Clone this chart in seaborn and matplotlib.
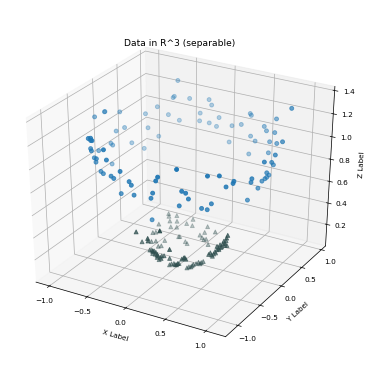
import matplotlib
matplotlib.use("Agg")
import matplotlib.pyplot as plt
import seaborn as sns
import numpy as np

# Point coordinates, in hundredths of a data unit
blue_x = [-64,-64,-65,-49,-28,-24,96,-77,-101,-107,-107,-107,-85,-66,-35,-55,-34,-23,-13,-14,5,17,26,28,69,51,56,72,-80,-95,-98,-70,33,41,66,82,102,5,-87,-95,-94,-78,69,36,-91,-87,-65,-58,-55,-60,-76,-67,-37,103,-73,-63,-67,-37,104,99,94,-61,-54,-19,48,-37,-33,27,24,72,81,96,90,88,92,92,96,94,88,87,82,90,-10,-8,-28,-8,17,13,47,50,51,41,68,59,85,63,6]
blue_y = [93,85,84,94,102,101,64,69,27,5,6,-15,56,75,94,81,91,94,99,95,97,97,101,100,82,88,84,73,53,27,14,60,90,86,73,59,33,91,29,-2,0,41,65,81,-33,-13,-91,-97,-99,-94,-71,-83,-105,15,-69,-80,-75,-100,-12,15,29,-75,-81,-102,-99,-92,-93,-102,-101,-77,-68,10,27,26,14,7,-24,-22,-49,-49,-55,2,-99,-98,-87,-93,-96,-93,-87,-84,-80,-82,-61,-66,-12,-61,-80]
blue_z = [126,114,113,112,112,108,133,107,110,115,115,116,103,100,101,95,95,94,99,92,95,98,108,107,115,104,102,106,92,97,97,84,92,90,97,102,114,82,84,91,89,77,90,79,94,77,125,128,127,125,109,112,124,108,101,105,100,114,110,101,94,93,94,108,120,98,97,111,107,112,111,93,85,83,86,86,98,94,102,100,98,81,100,97,83,87,94,88,98,96,90,83,83,79,74,77,64]
tri_x = [-40,-39,-32,-36,-30,-15,-20,-43,-33,-28,-13,5,18,4,-42,-41,0,-21,-22,-31,4,7,10,-13,-10,16,-29,-30,-35,-36,-31,10,-31,-13,-15,60,52,53,50,51,50,45,12,-22,-21,-18,-17,-14,-15,-3,43,40,41,37,3,22,17,3,0,-5,26,21,18,14,2,-21,-17,-21,-17,-16,-13,-17,-9,-24,-19,51,49,57,45,39,38,36,45,46,49,1,3,4,-1,20,21,25,23,17,12,16,-3,28,40]
tri_y = [31,30,36,27,33,44,38,14,24,29,39,43,38,38,-1,4,34,24,23,7,32,31,31,23,22,25,-4,-9,-6,-14,-54,-71,-42,-59,-55,-9,2,-5,-2,6,-15,3,-54,-36,-35,-34,-33,-31,-32,-41,2,0,-14,-2,-39,-38,-36,-21,-23,-26,-8,-11,-12,-15,-22,-36,-39,-36,-33,-32,-31,-33,-36,-37,-34,-10,5,-6,-6,0,-1,-2,-2,3,5,-22,-21,-20,-23,-37,-34,-9,-9,-13,-16,-14,-25,-7,-16]
tri_z = [26,24,24,21,20,21,18,21,17,16,17,18,17,14,18,17,12,10,10,10,11,10,11,7,6,9,9,10,13,15,38,52,25,37,33,37,27,29,25,21,27,19,30,17,16,15,13,10,8,17,17,14,19,11,15,19,16,4,3,3,5,4,3,1,3,16,18,14,12,11,9,10,14,17,13,27,23,33,20,15,13,12,20,20,21,3,4,4,4,18,16,4,5,2,0,1,4,6,18]

title = 'Data in R^3 (separable)'
z_ticks = [.2, .4, .6, .8, 1.0, 1.2, 1.4]

blue = np.array([blue_x, blue_y, blue_z]) / 100
tri = np.array([tri_x, tri_y, tri_z]) / 100

fig = plt.figure(figsize=(6, 6), dpi=383 / 6)
w, h = 0.809, 0.69
ax = fig.add_axes([179.5 / 383 - w / 2, 1 - 189 / 383 - h / 2, w, h], projection='3d')
ax.apply_aspect = lambda position=None: None
ax.set_box_aspect((1, 1, 1), zoom=1.187)

ax.scatter(*blue, color=sns.color_palette("tab10")[0], marker='o')
ax.scatter(*tri, color='darkslategrey', marker='^')

ax.set(xlim=(-1.18, 1.24), ylim=(-1.27, 1.11), zlim=(-0.005, 1.435))
ax.set_zticks(z_ticks)
ax.set_title(title, fontsize=10.3, x=0.5, y=1.108)
ax.set_xlabel('X Label', fontsize=8, labelpad=-2.5)
ax.set_ylabel('Y Label', fontsize=8, labelpad=-2.5)
ax.set_zlabel('Z Label', fontsize=8, labelpad=-2.5)
ax.tick_params(labelsize=8.3, pad=0)
fig.canvas.draw()
plt.setp(ax.get_xticklabels(), va='top')
plt.setp(ax.get_yticklabels(), va='top')

fig.savefig('out.png', dpi=383 / 6)
